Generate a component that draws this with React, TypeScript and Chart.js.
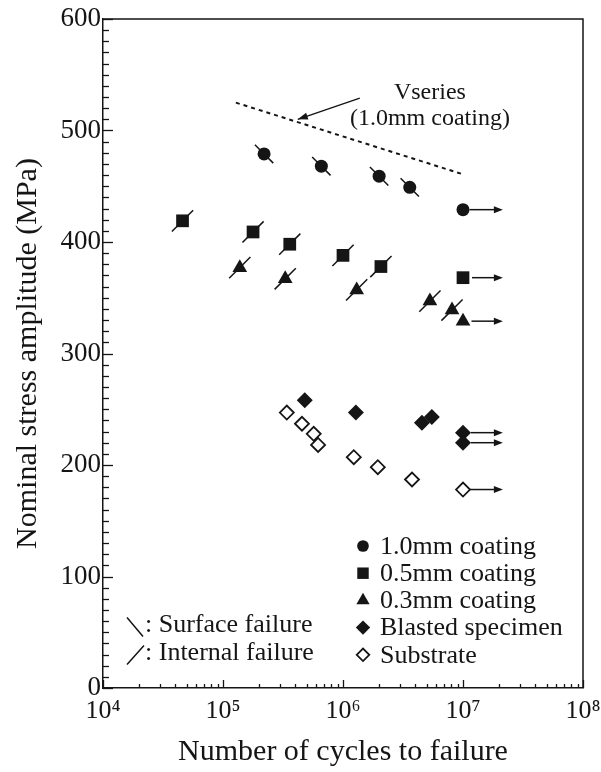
import React, { useEffect, useRef } from 'react';
import { Chart, registerables } from 'chart.js';
import { drawPoint } from 'chart.js/helpers';

Chart.register(...registerables);

// ---------------- data ----------------
const coating10Cycles = [2.2e5, 6.6e5, 2.0e6, 3.6e6, 1e7];
const coating10Stress = [479, 468, 459, 449, 429];
const coating10Runout = [false, false, false, false, true];

const coating05Cycles = [4.6e4, 1.78e5, 3.6e5, 1.0e6, 2.07e6, 1e7];
const coating05Stress = [419, 409, 398, 388, 378, 368];
const coating05Runout = [false, false, false, false, false, true];

const coating03Cycles = [1.38e5, 3.3e5, 1.3e6, 5.3e6, 8.1e6, 1e7];
const coating03Stress = [377, 367, 357, 347, 339, 329];
const coating03Runout = [false, false, false, false, false, true];

const blastedCycles = [4.8e5, 1.28e6, 4.55e6, 5.5e6, 1e7, 1e7];
const blastedStress = [258, 247, 238, 243, 229, 220];
const blastedRunout = [false, false, false, false, true, true];

const substrateCycles = [3.4e5, 4.55e5, 5.7e5, 6.2e5, 1.23e6, 1.95e6, 3.76e6, 1e7];
const substrateStress = [247, 237, 228, 218, 207, 198, 187, 178];
const substrateRunout = [false, false, false, false, false, false, false, true];

const vSeriesCycles = [1.28e5, 9.8e6];
const vSeriesStress = [525, 461];

const runoutArrowEndCycles = 2.15e7;

const annotationLines = ['Vseries', '(1.0mm coating)'];
const annotationTextCycles = [5.3e6, 5.3e6];
const annotationTextStress = [534, 511];
const annotationArrowCycles = [1.38e6, 4.2e5];
const annotationArrowStress = [529, 510];

const xTickValues = [1e4, 1e5, 1e6, 1e7, 1e8];
const xTickLabels = ['10\u2074', '10\u2075', '10\u2076', '10\u2077', '10\u2078'];
const yTickValues = [0, 100, 200, 300, 400, 500, 600];
const yMinorStep = 10;

const legendLabels = ['1.0mm coating', '0.5mm coating', '0.3mm coating', 'Blasted specimen', 'Substrate'];
const failureLabels = [': Surface failure', ': Internal failure'];

const xTitle = 'Number of cycles to failure';
const yTitle = 'Nominal stress amplitude (MPa)';

// ---------------- styles ----------------
const INK = '#151515';
const SERIF = '"Liberation Serif", "Times New Roman", serif';
const font = (s: number) => `${s}px ${SERIF}`;

const markerStyles = [
  { pointStyle: 'circle', radius: 6.5, fill: INK, border: 0 },
  { pointStyle: 'rect', radius: 9, fill: INK, border: 0 },
  { pointStyle: 'triangle', radius: 8.5, fill: INK, border: 0 },
  { pointStyle: 'rectRot', radius: 8, fill: INK, border: 0 },
  { pointStyle: 'rectRot', radius: 7, fill: '#ffffff', border: 1.8 },
];

const zip = (xs: number[], ys: number[]) => xs.map((x, i) => ({ x, y: ys[i] }));
const zipNonRunout = (xs: number[], ys: number[], r: boolean[]) =>
  xs.map((x, i) => ({ x, y: ys[i] })).filter((_, i) => !r[i]);

const seriesCycles = [coating10Cycles, coating05Cycles, coating03Cycles, blastedCycles, substrateCycles];
const seriesStress = [coating10Stress, coating05Stress, coating03Stress, blastedStress, substrateStress];
const seriesRunout = [coating10Runout, coating05Runout, coating03Runout, blastedRunout, substrateRunout];

const arrowHead = (ctx: CanvasRenderingContext2D, x1: number, y1: number, x2: number, y2: number, len: number, half: number) => {
  const a = Math.atan2(y2 - y1, x2 - x1);
  ctx.beginPath();
  ctx.moveTo(x2, y2);
  ctx.lineTo(x2 - len * Math.cos(a) + half * Math.sin(a), y2 - len * Math.sin(a) - half * Math.cos(a));
  ctx.lineTo(x2 - len * Math.cos(a) - half * Math.sin(a), y2 - len * Math.sin(a) + half * Math.cos(a));
  ctx.closePath();
  ctx.fill();
};

const decorPlugin = {
  id: 'decor',
  afterDraw(chart: any) {
    const { ctx, chartArea: ca, scales } = chart;
    const xs = scales.x;
    const ys = scales.y;
    ctx.save();
    ctx.strokeStyle = INK;
    ctx.fillStyle = INK;

    // inward ticks, y axis
    ctx.lineWidth = 1.3;
    for (let v = 0; v <= 600; v += yMinorStep) {
      const y = Math.round(ys.getPixelForValue(v)) + 0.5;
      const len = v % 100 === 0 ? 10 : 6;
      ctx.beginPath();
      ctx.moveTo(ca.left, y);
      ctx.lineTo(ca.left + len, y);
      ctx.stroke();
    }
    // inward ticks, x axis (log)
    for (let d = 4; d <= 8; d++) {
      for (let m = 1; m <= 9; m++) {
        const v = m * Math.pow(10, d);
        if (v > 1e8) break;
        const x = Math.round(xs.getPixelForValue(v)) + 0.5;
        const len = m === 1 ? 8 : 4;
        ctx.beginPath();
        ctx.moveTo(x, ca.bottom);
        ctx.lineTo(x, ca.bottom - len);
        ctx.stroke();
      }
    }

    // top frame line
    ctx.lineWidth = 1.5;
    ctx.beginPath();
    ctx.moveTo(ca.left, ca.top);
    ctx.lineTo(ca.right, ca.top);
    ctx.lineTo(ca.right, ca.bottom);
    ctx.stroke();

    // run-out arrows
    ctx.lineWidth = 1.5;
    seriesCycles.forEach((cyc, si) => {
      cyc.forEach((c, i) => {
        if (!seriesRunout[si][i]) return;
        const x0 = xs.getPixelForValue(c) + markerStyles[si].radius;
        const x1 = xs.getPixelForValue(runoutArrowEndCycles);
        const y = ys.getPixelForValue(seriesStress[si][i]);
        ctx.beginPath();
        ctx.moveTo(x0, y);
        ctx.lineTo(x1 - 6, y);
        ctx.stroke();
        arrowHead(ctx, x0, y, x1, y, 9, 3.5);
      });
    });

    // V-series annotation
    const ax0 = xs.getPixelForValue(annotationArrowCycles[0]);
    const ay0 = ys.getPixelForValue(annotationArrowStress[0]);
    const ax1 = xs.getPixelForValue(annotationArrowCycles[1]);
    const ay1 = ys.getPixelForValue(annotationArrowStress[1]);
    ctx.lineWidth = 1.4;
    ctx.beginPath();
    ctx.moveTo(ax0, ay0);
    ctx.lineTo(ax1, ay1);
    ctx.stroke();
    arrowHead(ctx, ax0, ay0, ax1, ay1, 10, 3.5);
    ctx.font = font(24);
    ctx.textAlign = 'center';
    ctx.textBaseline = 'middle';
    annotationLines.forEach((t, i) => {
      ctx.fillText(t, xs.getPixelForValue(annotationTextCycles[i]), ys.getPixelForValue(annotationTextStress[i]));
    });

    // legend
    const lx = ca.left + 260;
    const tx = ca.left + 277;
    legendLabels.forEach((label, i) => {
      const y = ca.top + 527 + i * 27.2;
      const st = markerStyles[i];
      ctx.fillStyle = st.fill;
      ctx.strokeStyle = INK;
      ctx.lineWidth = st.border;
      drawPoint(ctx, { pointStyle: st.pointStyle as any, radius: st.radius * 0.9, rotation: 0, borderWidth: st.border }, lx, y);
      ctx.fillStyle = INK;
      ctx.font = font(26);
      ctx.textAlign = 'left';
      ctx.textBaseline = 'middle';
      ctx.fillText(label, tx, y + 1);
    });

    // failure-mode key
    ctx.lineWidth = 1.5;
    const fx = ca.left + 32;
    const rows = [ca.top + 608, ca.top + 636];
    ctx.beginPath();
    ctx.moveTo(fx - 8, rows[0] - 9.5);
    ctx.lineTo(fx + 8, rows[0] + 9.5);
    ctx.moveTo(fx - 8, rows[1] + 9.5);
    ctx.lineTo(fx + 9, rows[1] - 9.5);
    ctx.stroke();
    ctx.font = font(26);
    ctx.textAlign = 'left';
    ctx.textBaseline = 'middle';
    failureLabels.forEach((t, i) => ctx.fillText(t, ca.left + 42, rows[i] - 2));

    ctx.restore();
  },
};

export default function App() {
  const ref = useRef<HTMLCanvasElement>(null);
  useEffect(() => {
    if (!ref.current) return;
    const markerSets = markerStyles.map((st, i) => ({
      type: 'scatter' as const,
      data: zip(seriesCycles[i], seriesStress[i]),
      showLine: false,
      pointStyle: st.pointStyle,
      pointRadius: st.radius,
      pointHoverRadius: st.radius,
      pointBackgroundColor: st.fill,
      pointBorderColor: INK,
      pointBorderWidth: st.border,
    }));
    const surfaceMarks = {
      type: 'scatter' as const,
      data: zipNonRunout(coating10Cycles, coating10Stress, coating10Runout),
      showLine: false,
      pointStyle: 'line',
      pointRadius: 13,
      pointRotation: 45,
      pointBorderColor: INK,
      pointBorderWidth: 1.5,
    };
    const internalMarks = {
      type: 'scatter' as const,
      data: [
        ...zipNonRunout(coating05Cycles, coating05Stress, coating05Runout),
        ...zipNonRunout(coating03Cycles, coating03Stress, coating03Runout),
      ],
      showLine: false,
      pointStyle: 'line',
      pointRadius: 15,
      pointRotation: -45,
      pointBorderColor: INK,
      pointBorderWidth: 1.5,
    };
    const vLine = {
      type: 'scatter' as const,
      data: zip(vSeriesCycles, vSeriesStress),
      showLine: true,
      borderColor: INK,
      borderWidth: 2,
      borderDash: [4, 4],
      pointRadius: 0,
    };

    const chart = new Chart(ref.current, {
      type: 'scatter',
      data: { datasets: [...markerSets, surfaceMarks, internalMarks, vLine] as any },
      plugins: [decorPlugin as any],
      options: {
        animation: false,
        responsive: false,
        devicePixelRatio: 1,
        events: [],
        layout: { padding: { left: 0, right: 18, top: 19, bottom: 0 } },
        plugins: { legend: { display: false }, tooltip: { enabled: false } },
        scales: {
          x: {
            type: 'logarithmic',
            min: 1e4,
            max: 1e8,
            afterBuildTicks: (s: any) => {
              s.ticks = xTickValues.map((value) => ({ value, major: true }));
            },
            afterFit: (s: any) => {
              s.height = 84;
              s.paddingLeft = 0;
              s.paddingRight = 0;
            },
            grid: { display: false, drawTicks: false },
            border: { display: true, color: INK, width: 1.5 },
            ticks: {
              autoSkip: false,
              maxRotation: 0,
              padding: 8,
              color: INK,
              font: { family: SERIF, size: 26 },
              callback: (v: any) => {
                const i = xTickValues.indexOf(Number(v));
                return i >= 0 ? xTickLabels[i] : '';
              },
            },
            title: {
              display: true,
              text: xTitle,
              color: INK,
              font: { family: SERIF, size: 30 },
              padding: { top: 0, bottom: 2 },
            },
          },
          y: {
            type: 'linear',
            min: 0,
            max: 600,
            afterBuildTicks: (s: any) => {
              s.ticks = yTickValues.map((value) => ({ value }));
            },
            afterFit: (s: any) => {
              s.width = 103;
              s.paddingTop = 0;
              s.paddingBottom = 0;
            },
            grid: { display: false, drawTicks: false },
            border: { display: true, color: INK, width: 1.5 },
            ticks: {
              padding: 2,
              color: INK,
              font: { family: SERIF, size: 27 },
            },
            title: {
              display: true,
              text: yTitle,
              color: INK,
              font: { family: SERIF, size: 30 },
              padding: { top: 10, bottom: 0 },
            },
          },
        },
      } as any,
    });
    return () => chart.destroy();
  }, []);
  return (
    <canvas
      ref={ref}
      width={601}
      height={772}
      style={{ position: 'absolute', left: 0, top: 0, width: 601, height: 772 }}
    />
  );
}
